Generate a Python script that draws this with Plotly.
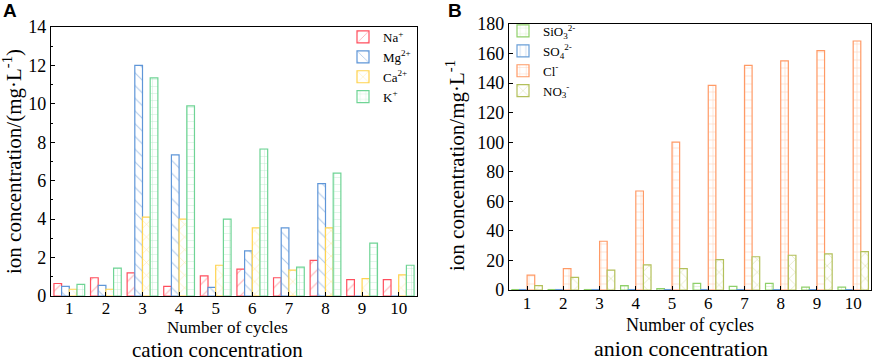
import plotly.graph_objects as go

# ---------------- data ----------------
cycles = [1, 2, 3, 4, 5, 6, 7, 8, 9, 10]
cycle_labels = ["1", "2", "3", "4", "5", "6", "7", "8", "9", "10"]

na = [0.65, 0.95, 1.2, 0.5, 1.05, 1.4, 0.95, 1.85, 0.85, 0.85]
mg = [0.5, 0.55, 12.0, 7.35, 0.45, 2.35, 3.55, 5.85, 0.0, 0.0]
ca = [0.35, 0.35, 4.1, 4.0, 1.6, 3.55, 1.35, 3.55, 0.9, 1.1]
k = [0.6, 1.45, 11.35, 9.9, 4.0, 7.65, 1.5, 6.4, 2.75, 1.6]

sio3 = [0.3, 0.3, 0.3, 3.0, 1.0, 4.5, 2.5, 4.5, 2.0, 2.0]
so4 = [0.3, 0.3, 0.3, 0.3, 0.3, 0.3, 0.3, 0.3, 0.3, 0.3]
cl = [10.0, 14.5, 33.0, 67.0, 100.0, 138.5, 152.0, 155.0, 162.0, 168.5]
no3 = [3.0, 8.5, 13.5, 17.0, 14.5, 20.5, 22.5, 23.5, 24.5, 26.0]

cation_names = ["Na<sup>+</sup>", "Mg<sup>2+</sup>", "Ca<sup>2+</sup>", "K<sup>+</sup>"]
anion_names = ["SiO<sub>3</sub><sup>2-</sup>", "SO<sub>4</sub><sup>2-</sup>",
               "Cl<sup>-</sup>", "NO<sub>3</sub><sup>-</sup>"]

W, H = 872, 362
SERIF = "Liberation Serif"


def px_x(p):
    return p / W


def px_y(p):
    return 1 - p / H


fig = go.Figure()


def add_bar(x, y, name, line_col, pat_col, shape, size, xa, ya, legend):
    fig.add_trace(go.Bar(
        x=x, y=y, name=name, xaxis=xa, yaxis=ya, legend=legend,
        marker=dict(color="white",
                    line=dict(color=line_col, width=1.2),
                    pattern=dict(shape=shape, fgcolor=pat_col, size=size,
                                 solidity=0.12, fgopacity=0.8)),
    ))


add_bar(cycles, na, cation_names[0], "#ff4f5e", "#ff9aa2", "/", 9, "x", "y", "legend")
add_bar(cycles, mg, cation_names[1], "#5f96d8", "#9dbde6", "\\", 9, "x", "y", "legend")
add_bar(cycles, ca, cation_names[2], "#ffd34f", "#ffe38f", "x", 9, "x", "y", "legend")
add_bar(cycles, k, cation_names[3], "#6fd495", "#a9e6bf", "+", 7, "x", "y", "legend")

add_bar(cycles, sio3, anion_names[0], "#8fd06a", "#b5e09a", "+", 7, "x2", "y2", "legend2")
add_bar(cycles, so4, anion_names[1], "#6a9fd8", "#aac6ea", "|", 7, "x2", "y2", "legend2")
add_bar(cycles, cl, anion_names[2], "#ff9a66", "#ffbf9c", "+", 8, "x2", "y2", "legend2")
add_bar(cycles, no3, anion_names[3], "#b3c05a", "#cdd68f", "x", 9, "x2", "y2", "legend2")

axis_common = dict(showline=True, linecolor="black", linewidth=1.3, mirror=True,
                   showgrid=False, zeroline=False)
xfont = dict(family=SERIF, size=17, color="black")
yfont = dict(family=SERIF, size=18, color="black")

fig.update_layout(
    width=W, height=H,
    margin=dict(l=0, r=0, t=0, b=0),
    paper_bgcolor="white", plot_bgcolor="white",
    barmode="group", bargap=0.16, bargroupgap=0.0,
    xaxis=dict(domain=[px_x(51), px_x(417)], range=[0.5, 10.5],
               tickvals=cycles, ticktext=cycle_labels, tickfont=xfont,
               ticks="inside", ticklen=4, tickcolor="black", anchor="y",
               ticklabelstandoff=-4,
               automargin=False, **axis_common),
    yaxis=dict(domain=[px_y(296), px_y(27)], range=[0, 14], dtick=2,
               tickfont=yfont,
               ticks="inside", ticklen=4, tickcolor="black", anchor="x",
               minor=dict(ticks="inside", ticklen=2, dtick=1, tickcolor="black"),
               automargin=False, **axis_common),
    xaxis2=dict(domain=[px_x(509), px_x(871.3)], range=[0.5, 10.5],
                tickvals=cycles, ticktext=cycle_labels, tickfont=xfont,
                ticks="inside", ticklen=4, tickcolor="black", anchor="y2",
                ticklabelstandoff=-3,
                automargin=False, **axis_common),
    yaxis2=dict(domain=[px_y(290), px_y(24)], range=[0, 180], dtick=20,
                tickfont=yfont,
                ticks="inside", ticklen=4, tickcolor="black", anchor="x2",
                automargin=False, **axis_common),
    legend=dict(x=px_x(343), y=px_y(22), xanchor="left", yanchor="top",
                bgcolor="rgba(0,0,0,0)", tracegroupgap=0,
                font=dict(family=SERIF, size=13, color="black")),
    legend2=dict(x=px_x(503), y=px_y(16), xanchor="left", yanchor="top",
                 bgcolor="rgba(0,0,0,0)", tracegroupgap=0,
                 font=dict(family=SERIF, size=13, color="black")),
)

ann = []


def text(x, y, s, size, angle=0, family=SERIF, bold=False):
    if bold:
        s = "<b>" + s + "</b>"
    ann.append(dict(x=px_x(x), y=px_y(y), xref="paper", yref="paper",
                    text=s, showarrow=False, textangle=angle, borderpad=0,
                    xanchor="center", yanchor="middle",
                    font=dict(family=family, size=size, color="black")))


text(12, 162, "ion concentration/(mg·L<sup>-1</sup>)", 21, angle=-90)
text(455, 166, "ion concentration/mg·L<sup>-1</sup>", 21, angle=-90)
text(227, 327, "Number of cycles", 17)
text(690, 325, "Number of cycles", 18)
text(217, 350, "cation concentration", 21)
text(681, 348.5, "anion concentration", 22)
text(10, 11, "A", 19, family="Liberation Sans", bold=True)
text(455, 11, "B", 19, family="Liberation Sans", bold=True)

fig.update_layout(annotations=ann)

fig.write_html("out.html",
               config={"displayModeBar": False},
               post_script="document.body.style.margin='0';document.body.style.overflow='hidden';")
